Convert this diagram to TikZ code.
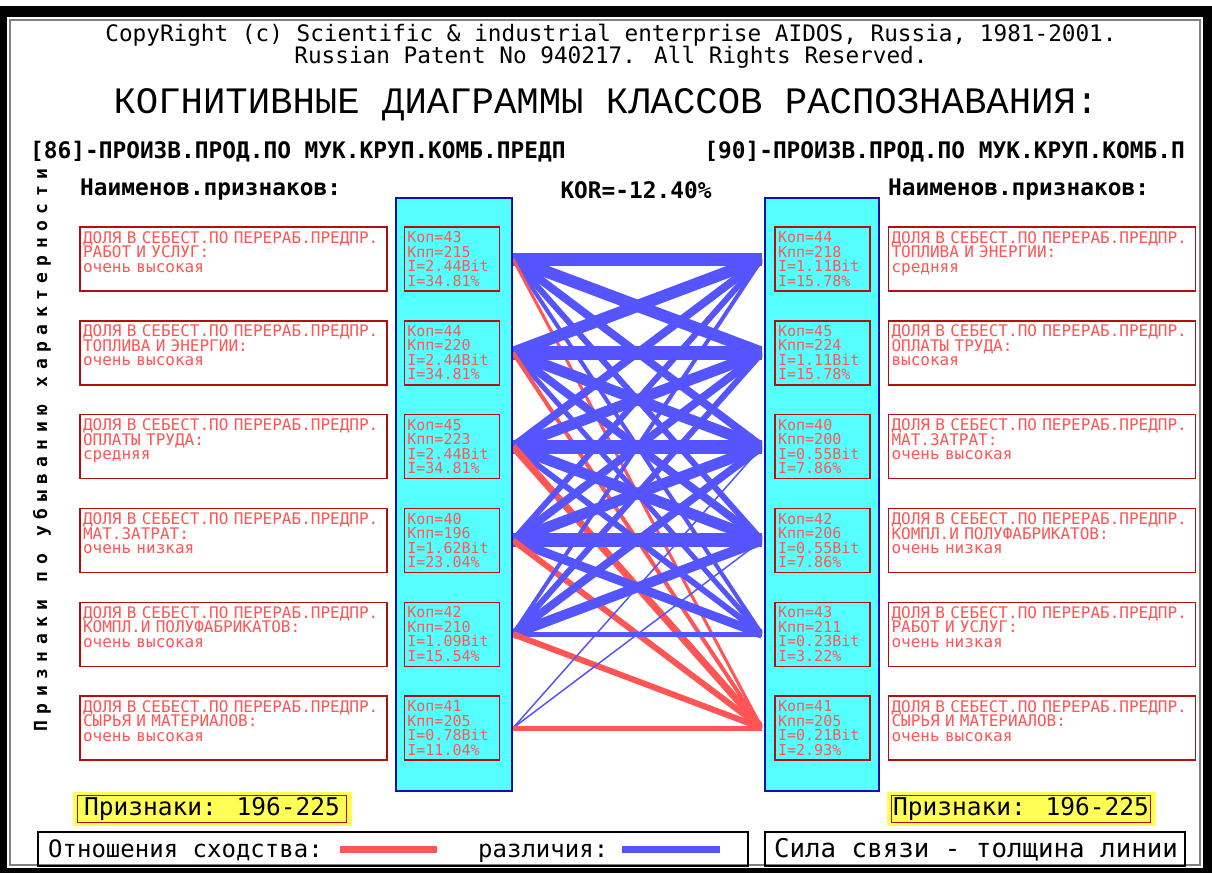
\documentclass[tikz,border=0pt]{standalone}
\usepackage{fontspec}
\usetikzlibrary{positioning}
\newfontfamily\dosmono{DejaVu Sans Mono}
\newfontfamily\dostitle{Liberation Mono}
\newfontfamily\dosspaced{DejaVu Sans Mono}[LetterSpace=36]
\definecolor{doscyan}{HTML}{55FFFF}
\definecolor{dosblue}{HTML}{5555FF}
\definecolor{doslred}{HTML}{FF5555}
\definecolor{dosred}{HTML}{B01010}
\definecolor{dosyellow}{HTML}{FFFF55}
\definecolor{dosnavy}{HTML}{1010B0}

\begin{document}
\begin{tikzpicture}[x=1pt,y=-1pt,
    featbox/.style={draw=dosred,line width=1.4pt,text=doslred,inner xsep=3pt,inner ysep=2pt,
      text width=301pt,minimum height=64pt,align=left,font=\dosmono\fontsize{16}{14.5}\selectfont},
    statbox/.style={featbox,text width=89pt,font=\dosmono\fontsize{15}{14.5}\selectfont},
    colbox/.style={fill=doscyan,draw=dosnavy,line width=2pt},
    hdr/.style={font=\dosmono\fontsize{22.7}{26}\selectfont,inner sep=0pt},
    hdrbold/.style={font=\dosmono\bfseries\fontsize{22.8}{26}\selectfont,inner sep=0pt},
    cntbox/.style={fill=dosyellow,minimum width=279pt,minimum height=34pt,inner sep=0pt,
      font=\dosmono\fontsize{24.5}{26}\selectfont},
    legbox/.style={draw,line width=2pt},
    legtext/.style={font=\dosmono\fontsize{24}{26}\selectfont,inner sep=0pt},
    legline/.style={line width=7pt},
    link/.style={line cap=butt}]
  \useasboundingbox (0,0) rectangle (1212,873);
  % frame
  \fill[black] (0,6) rectangle (1212,873);
  \fill[white] (7,17) rectangle (1203,868);
  \draw[gray,line width=1.2pt] (10,20) rectangle (1200,865);

  % headers
  \node[hdr] (copy1) at (611,35) {CopyRight (c) Scientific \& industrial enterprise AIDOS, Russia, 1981-2001.};
  \node[hdr] (copy2) at (611,57) {Russian Patent No 940217. All Rights Reserved.};
  \node[font=\dostitle\fontsize{37.3}{40}\selectfont,inner sep=0pt] (title) at (606,105)
    {КОГНИТИВНЫЕ ДИАГРАММЫ КЛАССОВ РАСПОЗНАВАНИЯ:};
  \node[hdrbold,anchor=west] (clsA) at (30,152) {[86]-ПРОИЗВ.ПРОД.ПО  МУК.КРУП.КОМБ.ПРЕДП};
  \node[hdrbold,anchor=east] (clsB) at (1185,152) {[90]-ПРОИЗВ.ПРОД.ПО  МУК.КРУП.КОМБ.П};
  \node[hdrbold,anchor=west] (namesA) at (80,190) {Наименов.признаков:};
  \node[hdrbold,anchor=west] (namesB) at (888,190) {Наименов.признаков:};
  \node[hdrbold] (kor) at (636,190) {KOR=-12.40\%};
  \node[rotate=90,font=\dosspaced\bfseries\fontsize{18}{20}\selectfont,inner sep=0pt] (axis) at (42,450)
    {Признаки по убыванию характерности};

  % columns
  \draw[colbox] (396,198) rectangle (512,791);
  \draw[colbox] (765,198) rectangle (879,791);

  % left features
  \node[featbox] (lf1) at (233.5,259) {ДОЛЯ В СЕБЕСТ.ПО ПЕРЕРАБ.ПРЕДПР.\\РАБОТ И УСЛУГ:\\очень высокая\\~};
  \node[featbox] (lf2) at (233.5,352.8) {ДОЛЯ В СЕБЕСТ.ПО ПЕРЕРАБ.ПРЕДПР.\\ТОПЛИВА И ЭНЕРГИИ:\\очень высокая\\~};
  \node[featbox] (lf3) at (233.5,446.6) {ДОЛЯ В СЕБЕСТ.ПО ПЕРЕРАБ.ПРЕДПР.\\ОПЛАТЫ ТРУДА:\\средняя\\~};
  \node[featbox] (lf4) at (233.5,540.4) {ДОЛЯ В СЕБЕСТ.ПО ПЕРЕРАБ.ПРЕДПР.\\МАТ.ЗАТРАТ:\\очень низкая\\~};
  \node[featbox] (lf5) at (233.5,634.2) {ДОЛЯ В СЕБЕСТ.ПО ПЕРЕРАБ.ПРЕДПР.\\КОМПЛ.И ПОЛУФАБРИКАТОВ:\\очень высокая\\~};
  \node[featbox] (lf6) at (233.5,728) {ДОЛЯ В СЕБЕСТ.ПО ПЕРЕРАБ.ПРЕДПР.\\СЫРЬЯ И МАТЕРИАЛОВ:\\очень высокая\\~};

  \node[statbox,right=16pt of lf1] (ls1) {Коп=43\\Кпп=215\\I=2.44Bit\\I=34.81\%};
  \node[statbox,right=16pt of lf2] (ls2) {Коп=44\\Кпп=220\\I=2.44Bit\\I=34.81\%};
  \node[statbox,right=16pt of lf3] (ls3) {Коп=45\\Кпп=223\\I=2.44Bit\\I=34.81\%};
  \node[statbox,right=16pt of lf4] (ls4) {Коп=40\\Кпп=196\\I=1.62Bit\\I=23.04\%};
  \node[statbox,right=16pt of lf5] (ls5) {Коп=42\\Кпп=210\\I=1.09Bit\\I=15.54\%};
  \node[statbox,right=16pt of lf6] (ls6) {Коп=41\\Кпп=205\\I=0.78Bit\\I=11.04\%};

  % right features
  \node[featbox] (rf1) at (1042,259) {ДОЛЯ В СЕБЕСТ.ПО ПЕРЕРАБ.ПРЕДПР.\\ТОПЛИВА И ЭНЕРГИИ:\\средняя\\~};
  \node[featbox] (rf2) at (1042,352.8) {ДОЛЯ В СЕБЕСТ.ПО ПЕРЕРАБ.ПРЕДПР.\\ОПЛАТЫ ТРУДА:\\высокая\\~};
  \node[featbox] (rf3) at (1042,446.6) {ДОЛЯ В СЕБЕСТ.ПО ПЕРЕРАБ.ПРЕДПР.\\МАТ.ЗАТРАТ:\\очень высокая\\~};
  \node[featbox] (rf4) at (1042,540.4) {ДОЛЯ В СЕБЕСТ.ПО ПЕРЕРАБ.ПРЕДПР.\\КОМПЛ.И ПОЛУФАБРИКАТОВ:\\очень низкая\\~};
  \node[featbox] (rf5) at (1042,634.2) {ДОЛЯ В СЕБЕСТ.ПО ПЕРЕРАБ.ПРЕДПР.\\РАБОТ И УСЛУГ:\\очень низкая\\~};
  \node[featbox] (rf6) at (1042,728) {ДОЛЯ В СЕБЕСТ.ПО ПЕРЕРАБ.ПРЕДПР.\\СЫРЬЯ И МАТЕРИАЛОВ:\\очень высокая\\~};

  \node[statbox,left=17pt of rf1] (rs1) {Коп=44\\Кпп=218\\I=1.11Bit\\I=15.78\%};
  \node[statbox,left=17pt of rf2] (rs2) {Коп=45\\Кпп=224\\I=1.11Bit\\I=15.78\%};
  \node[statbox,left=17pt of rf3] (rs3) {Коп=40\\Кпп=200\\I=0.55Bit\\I=7.86\%};
  \node[statbox,left=17pt of rf4] (rs4) {Коп=42\\Кпп=206\\I=0.55Bit\\I=7.86\%};
  \node[statbox,left=17pt of rf5] (rs5) {Коп=43\\Кпп=211\\I=0.23Bit\\I=3.22\%};
  \node[statbox,left=17pt of rf6] (rs6) {Коп=41\\Кпп=205\\I=0.21Bit\\I=2.93\%};

  % link ends
  \foreach \k/\y in {1/259,2/352.8,3/446.6,4/540.4,5/634.2,6/728} {
    \coordinate (la\k) at (513,\y);
    \coordinate (ra\k) at (762,\y);
  }
  % links: from/to/width/colour
  \begin{scope}
    \clip (513,200) rectangle (762,790);
    \foreach \i/\j/\w/\c in {1/1/13/dosblue,1/2/12/dosblue,1/3/8/dosblue,1/4/6/dosblue,1/5/4/dosblue,1/6/3/doslred,
        2/1/12/dosblue,2/2/14/dosblue,2/3/11/dosblue,2/4/8/dosblue,2/5/5/dosblue,2/6/4/doslred,
        3/1/8/dosblue,3/2/11/dosblue,3/3/14/dosblue,3/4/11/dosblue,3/5/6/dosblue,3/6/7/doslred,
        4/1/6/dosblue,4/2/8/dosblue,4/3/11/dosblue,4/4/14/dosblue,4/5/9/dosblue,4/6/6/doslred,
        5/1/4/dosblue,5/2/6/dosblue,5/3/8/dosblue,5/4/10/dosblue,5/5/5/dosblue,5/6/6/doslred,
        6/3/1.5/dosblue,6/4/1.5/dosblue,6/6/5/doslred} {
      \draw[link,draw=\c,line width=\w pt] (la\i) -- (ra\j);
    }
  \end{scope}

  % counts
  \node[cntbox] (cntA) at (212,809) {Признаки: 196-225};
  \draw[dosred,line width=1pt] ([shift={(5,4)}]cntA.north west) rectangle ([shift={(-5,-4)}]cntA.south east);
  \node[cntbox,minimum width=269pt] (cntB) at (1021,809) {Признаки: 196-225};
  \draw[dosred,line width=1pt] ([shift={(5,4)}]cntB.north west) rectangle ([shift={(-5,-4)}]cntB.south east);

  % legend
  \draw[legbox] (38,832) rectangle (748,866);
  \draw[legbox] (765,832) rectangle (1185,866);
  \node[legtext,anchor=base west] (simtxt) at (48,857) {Отношения сходства:};
  \node[legtext,anchor=base west] (diftxt) at (478,857) {различия:};
  \node[legtext,font=\dosmono\fontsize{25.8}{26}\selectfont,anchor=base] (strtxt) at (976,857) {Сила связи - толщина линии};
  \coordinate (simA) at (340,849);
  \coordinate (simB) at (437,849);
  \coordinate (difA) at (622,849);
  \coordinate (difB) at (720,849);
  \draw[legline,doslred] (simA) -- (simB);
  \draw[legline,dosblue] (difA) -- (difB);
\end{tikzpicture}
\end{document}
